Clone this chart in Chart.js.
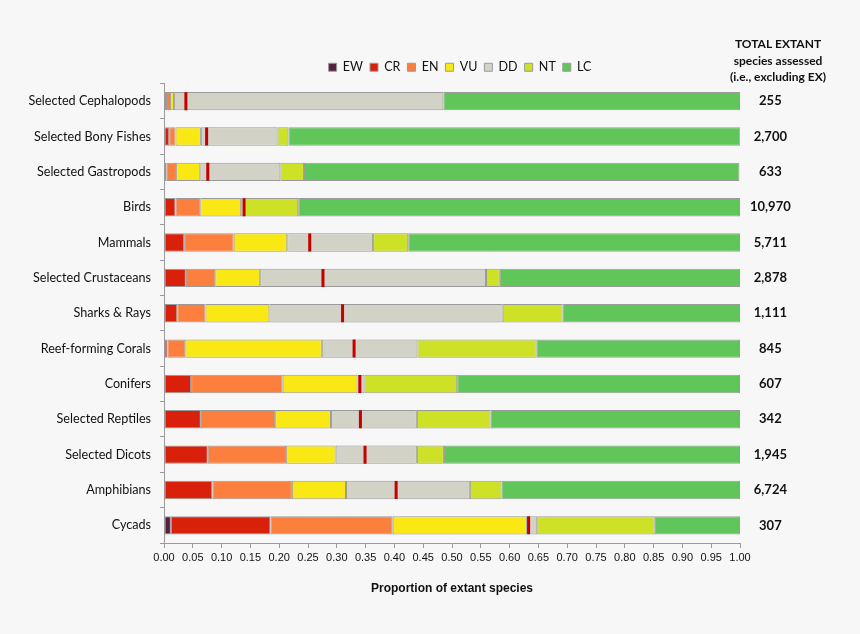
<!DOCTYPE html>
<html>
<head>
<meta charset="utf-8">
<script src="https://cdn.jsdelivr.net/npm/chart.js@4.4.0/dist/chart.umd.min.js"></script>
<style>
  html, body { margin: 0; padding: 0; background: #f7f7f7; }
  #wrap { position: relative; width: 860px; height: 634px; }
</style>
</head>
<body>
<div id="wrap"><canvas id="chart"></canvas></div>
<script>
// groups, top to bottom
const categories = ['Selected Cephalopods', 'Selected Bony Fishes', 'Selected Gastropods', 'Birds', 'Mammals',
    'Selected Crustaceans', 'Sharks & Rays', 'Reef-forming Corals', 'Conifers', 'Selected Reptiles',
    'Selected Dicots', 'Amphibians', 'Cycads'];
const totals = ['255', '2,700', '633', '10,970', '5,711', '2,878', '1,111', '845', '607', '342', '1,945', '6,724', '307'];

// proportion of extant species in each Red List category
const ew = [0, 0, 0, 0, 0, 0, 0, 0, 0, 0, 0, 0, 0.012];
const cr = [0.0035, 0.009, 0.004, 0.020, 0.035, 0.038, 0.023, 0.006, 0.047, 0.064, 0.076, 0.084, 0.173];
const en = [0.007, 0.011, 0.017, 0.043, 0.086, 0.051, 0.049, 0.031, 0.159, 0.129, 0.136, 0.138, 0.212];
const vu = [0.007, 0.044, 0.042, 0.071, 0.093, 0.078, 0.111, 0.237, 0.130, 0.097, 0.086, 0.094, 0.233];
const dd = [0.4675, 0.133, 0.139, 0.005, 0.149, 0.392, 0.405, 0.166, 0.012, 0.149, 0.141, 0.215, 0.018];
const nt = [0, 0.019, 0.041, 0.094, 0.061, 0.024, 0.104, 0.207, 0.161, 0.128, 0.047, 0.055, 0.204];
const lc = [0.515, 0.785, 0.756, 0.767, 0.576, 0.417, 0.308, 0.353, 0.491, 0.433, 0.514, 0.414, 0.148];
// red marks: best estimate of threatened proportion
const bestEstimate = [0.038, 0.074, 0.076, 0.139, 0.253, 0.276, 0.310, 0.330, 0.340, 0.341, 0.349, 0.403, 0.633];

const xTicks = [0, 0.05, 0.1, 0.15, 0.2, 0.25, 0.3, 0.35, 0.4, 0.45, 0.5, 0.55, 0.6, 0.65, 0.7, 0.75, 0.8, 0.85, 0.9, 0.95, 1];

const series = [
    ['EW', ew, '#55203f'],
    ['CR', cr, '#d8200a'],
    ['EN', en, '#fc7f3d'],
    ['VU', vu, '#f9e814'],
    ['DD', dd, '#d2d2c7'],
    ['NT', nt, '#cde126'],
    ['LC', lc, '#60c659']
];

let datasets = series.map(s => ({
    type: 'bar',
    label: s[0],
    data: s[1],
    backgroundColor: s[2],
    borderColor: '#9a9a9a',
    borderWidth: 1,
    borderSkipped: false,
    barPercentage: 0.52,
    categoryPercentage: 1,
    order: 1
}));

datasets.push({
    type: 'scatter',
    label: 'best',
    data: bestEstimate.map((v, i) => ({x: v, y: categories[i]})),
    pointStyle: 'line',
    rotation: 90,
    radius: 9,
    hoverRadius: 9,
    borderWidth: 3,
    borderColor: '#c40000',
    backgroundColor: '#c40000',
    stack: 'marker',
    order: 0
});

const headerText = {
    id: 'headerText',
    afterLayout(chart) {
        // nudge the legend a little right, as in the original
        chart.legend.left += 8;
        chart.legend.right += 8;
    },
    afterDraw(chart) {
        let ctx = chart.ctx;
        ctx.save();
        ctx.fillStyle = '#111';
        ctx.textAlign = 'center';
        ctx.textBaseline = 'middle';
        ctx.font = 'bold 12px Lato';
        ctx.fillText('TOTAL EXTANT', 778, 44);
        ctx.fillText('species assessed', 778, 61);
        ctx.fillText('(i.e., excluding EX)', 778, 77);
        ctx.restore();
    }
};

const config = {
    data: {labels: categories, datasets: datasets},
    options: {
        indexAxis: 'y',
        responsive: true,
        maintainAspectRatio: false,
        animation: false,
        layout: {padding: {top: 54, left: 0, right: 0, bottom: 0}},
        plugins: {
            tooltip: {enabled: false},
            legend: {
                position: 'top',
                fullSize: false,
                labels: {
                    boxWidth: 8,
                    boxHeight: 8,
                    padding: 7,
                    color: '#111',
                    font: {family: 'Lato', size: 12.5},
                    filter: item => item.text !== 'best',
                    generateLabels: chart => chart.data.datasets
                        .map((d, i) => ({
                            text: d.label,
                            fillStyle: d.backgroundColor,
                            strokeStyle: '#9a9a9a',
                            lineWidth: 1,
                            datasetIndex: i,
                            fontColor: '#111'
                        }))
                }
            }
        },
        scales: {
            x: {
                type: 'linear',
                stacked: true,
                min: 0,
                max: 1,
                afterBuildTicks: scale => { scale.ticks = xTicks.map(v => ({value: v})); },
                afterFit: scale => { scale.height = 91; },
                grid: {drawOnChartArea: false, tickLength: 5, color: '#9a9a9a'},
                border: {color: '#9a9a9a'},
                ticks: {
                    autoSkip: false,
                    maxRotation: 0,
                    minRotation: 0,
                    padding: 3,
                    color: '#111',
                    font: {family: 'Liberation Sans', size: 11},
                    callback: v => Number(v).toFixed(2)
                },
                title: {
                    display: true,
                    text: 'Proportion of extant species',
                    color: '#111',
                    font: {family: 'Liberation Sans', size: 12, weight: 'bold'},
                    padding: {top: 4, bottom: 38}
                }
            },
            y: {
                type: 'category',
                stacked: true,
                offset: true,
                afterFit: scale => { scale.width = 164; },
                grid: {drawOnChartArea: false, offset: true, tickLength: 4, color: '#9a9a9a'},
                border: {color: '#9a9a9a'},
                ticks: {color: '#111', padding: 9, font: {family: 'Lato', size: 12.6}}
            },
            y2: {
                type: 'category',
                position: 'right',
                labels: totals,
                offset: true,
                afterFit: scale => { scale.width = 120; },
                grid: {display: false, drawTicks: false},
                border: {display: false},
                ticks: {
                    color: '#111',
                    crossAlign: 'center',
                    padding: 10,
                    font: {family: 'Lato', size: 13, weight: 'bold'}
                }
            }
        }
    },
    plugins: [headerText]
};

let ctx = document.getElementById('chart').getContext('2d');
new Chart(ctx, config);
</script>
</body>
</html>
